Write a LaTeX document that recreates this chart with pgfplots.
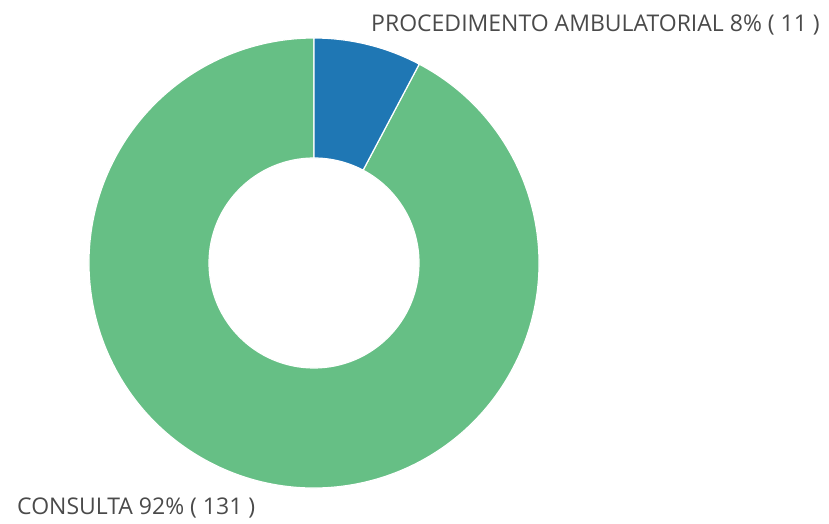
\documentclass[border=0pt]{standalone}
\usepackage{pgfplots}
\usepackage{pgfplotstable}
\pgfplotsset{compat=1.18}
\usepackage{fontspec}
\setmainfont{Open Sans}
\definecolor{cblue}{HTML}{1F77B4}
\definecolor{cgreen}{HTML}{66BF85}
\definecolor{ctext}{HTML}{4A4A4A}

\pgfplotstableread{
value
11
131
}\donut

\begin{document}
\begin{tikzpicture}
\begin{axis}[
    width=829pt, height=524pt, scale only axis,
    xmin=0, xmax=829, ymin=0, ymax=524,
    hide axis, clip=false]
  % keep the whole frame in the bounding box
  \path (axis cs:0,0) rectangle (axis cs:829,524);
  \pgfplotstablegetelem{0}{value}\of\donut \let\va\pgfplotsretval
  \pgfplotstablegetelem{1}{value}\of\donut \let\vb\pgfplotsretval
  \pgfmathsetmacro\total{\va+\vb}
  \pgfmathsetmacro\fa{\va/\total}
  \pgfmathsetmacro\fb{\vb/\total}
  \pgfmathsetmacro\aa{90-360*\fa}
  \pgfmathsetmacro\ab{\aa-360*\fb}
  \pgfmathtruncatemacro\pa{round(100*\fa)}
  \pgfmathtruncatemacro\pb{round(100*\fb)}
  \begin{scope}[shift={(axis cs:314,261)}]
    \filldraw[fill=cgreen, draw=white, line width=1.2pt]
      (\aa:225pt) arc[start angle=\aa, end angle=\ab, radius=225pt]
      -- (\ab:105pt) arc[start angle=\ab, end angle=\aa, radius=105pt] -- cycle;
    \filldraw[fill=cblue, draw=white, line width=1.2pt]
      (90:225pt) arc[start angle=90, end angle=\aa, radius=225pt]
      -- (\aa:105pt) arc[start angle=\aa, end angle=90, radius=105pt] -- cycle;
  \end{scope}
  \node[anchor=base west, inner sep=0pt, text=ctext, font=\fontsize{23}{26}\selectfont]
    at (axis cs:371,492) {PROCEDIMENTO AMBULATORIAL \pa\% ( \va{} )};
  \node[anchor=base west, inner sep=0pt, text=ctext, font=\fontsize{23}{26}\selectfont]
    at (axis cs:17,9) {CONSULTA \pb\% ( \vb{} )};
\end{axis}
\end{tikzpicture}
\end{document}
